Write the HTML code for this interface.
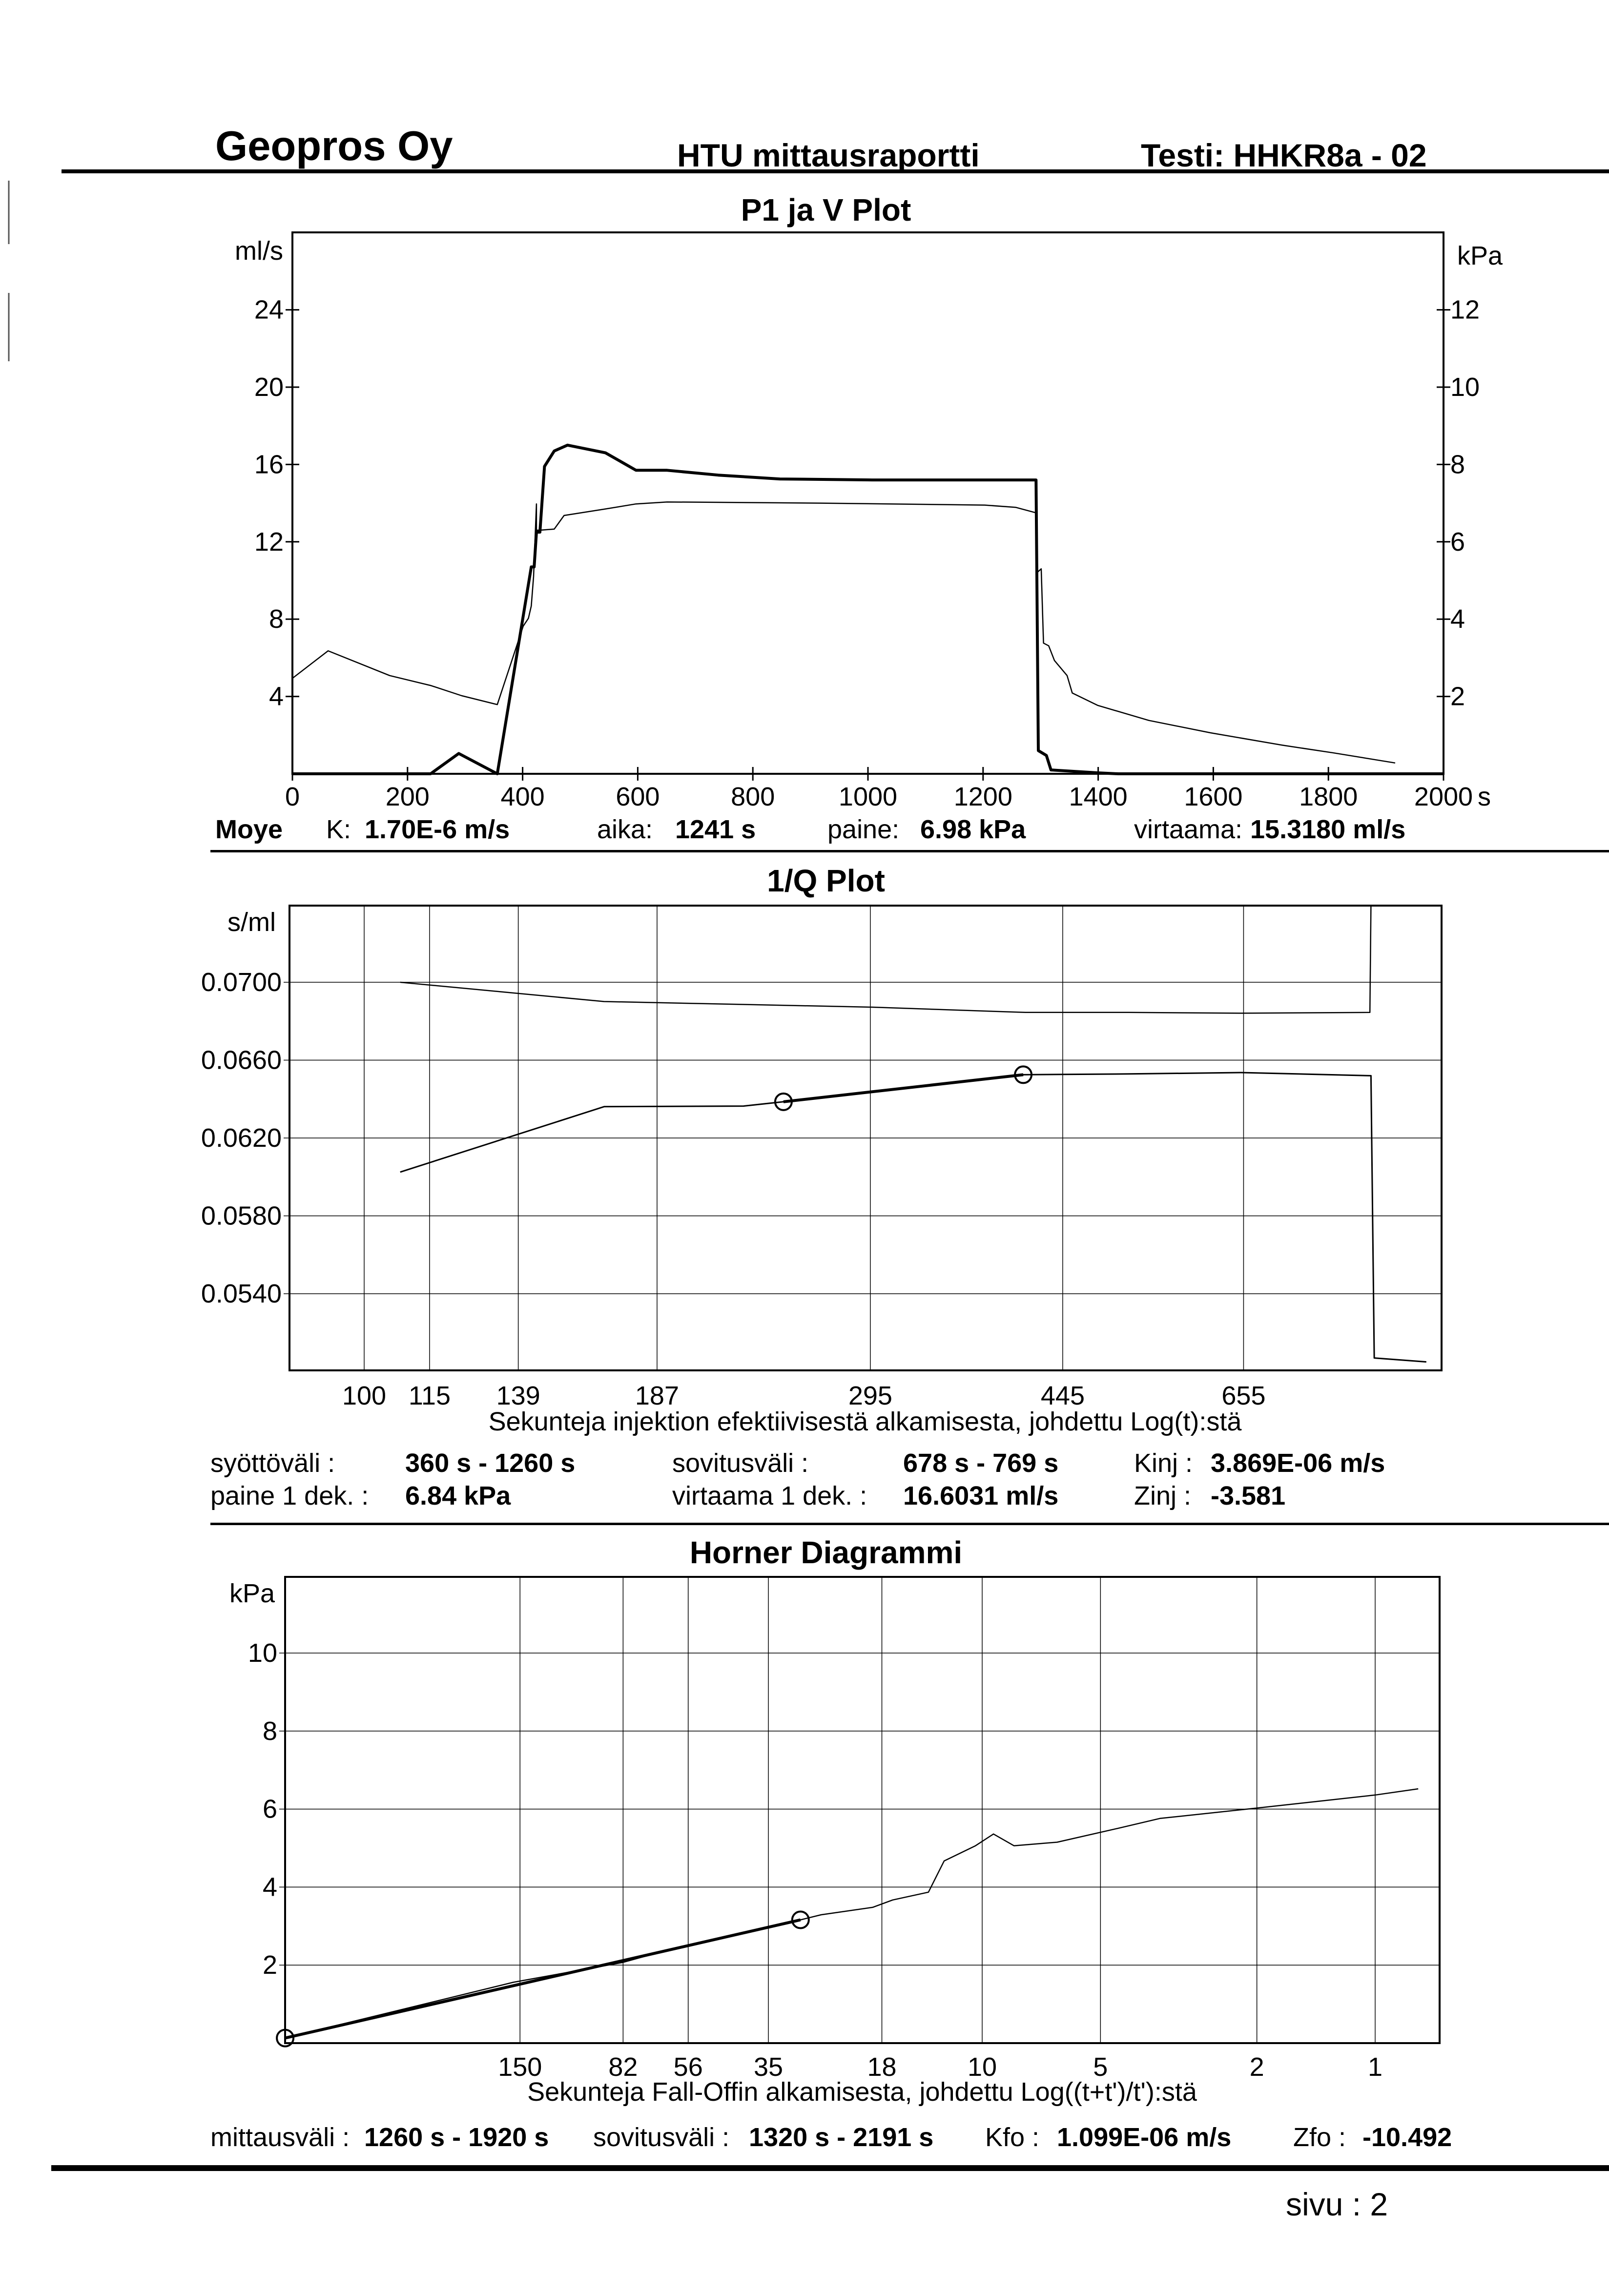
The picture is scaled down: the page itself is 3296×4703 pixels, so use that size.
<!DOCTYPE html>
<html><head><meta charset="utf-8"><style>
html,body{margin:0;padding:0;background:#fff;}
svg{display:block;font-family:"Liberation Sans",sans-serif;}
</style></head><body>
<svg id="pg" xmlns="http://www.w3.org/2000/svg" width="3296" height="4703" viewBox="0 0 3296 4703">
<rect width="3296" height="4703" fill="#fff"/>
<line x1="18" y1="370" x2="18" y2="500" stroke="#555" stroke-width="3"/>
<line x1="18" y1="600" x2="18" y2="740" stroke="#555" stroke-width="3"/>
<g font-weight="bold">
<text x="441" y="328" font-size="85">Geopros Oy</text>
<text x="1387" y="341" font-size="66">HTU mittausraportti</text>
<text x="2337" y="341" font-size="66">Testi: HHKR8a - 02</text>
</g>
<rect x="126" y="347" width="3170" height="8" fill="#000"/>
<g id="c1"></g>
<g id="c2"></g>
<g id="c3"></g>
<rect x="431" y="1741" width="2865" height="5" fill="#000"/>
<rect x="431" y="3119" width="2865" height="5" fill="#000"/>
<rect x="105" y="4435" width="3191" height="12" fill="#000"/>
<text x="2634" y="4538" font-size="66">sivu :  2</text>
</svg>
<script>
// ---- Chart 1 data ----
const flowT = [0,240,289,356,415,420,424,430,438,455,478,544,597,651,740,847,1007,1292,1296,1310,1318,1399,1435,2000];
const flowV = [0,0,1.05,0,10.7,10.7,12.5,12.5,15.9,16.7,17.0,16.6,15.7,15.7,15.45,15.25,15.2,15.2,1.2,0.95,0.2,0.05,0,0];
const presT = [0,62,169,241,294,356,401,410,415,419,424,424,430,455,472,544,597,651,918,1203,1257,1292,1292,1301,1305,1314,1324,1346,1355,1399,1488,1595,1720,1809,1916];
const presV = [2.47,3.18,2.54,2.28,2.02,1.79,3.82,4.02,4.34,5.1,6.98,6.3,6.3,6.33,6.68,6.85,6.98,7.03,7.0,6.95,6.89,6.75,5.18,5.3,3.38,3.31,2.93,2.54,2.09,1.77,1.38,1.06,0.74,0.54,0.28];
const c1LeftTicks = [4,8,12,16,20,24];
const c1RightTicks = [2,4,6,8,10,12];
const c1XTicks = [0,200,400,600,800,1000,1200,1400,1600,1800,2000];
// ---- Chart 2 data ----
const q2GridT = [100,115,139,187,295,445,655];
const q2YTicks = [0.0700,0.0660,0.0620,0.0580,0.0540];
const q2UpperT = [108,167,296,411,512,652,858,860];
const q2UpperV = [0.0700,0.06901,0.06872,0.06845,0.06845,0.06841,0.06845,0.0740];
const q2LowerT = [108,167,225,245,409,512,652,858,860,866,968];
const q2LowerV = [0.06025,0.06361,0.06364,0.06386,0.06525,0.06529,0.06536,0.0652,0.0652,0.0507,0.0505];
const q2FitT = [245,409];
const q2FitV = [0.06386,0.06525];
// ---- Chart 3 data ----
const h3GridL = [150,82,56,35,18,10,5,2,1];
const h3YTicks = [2,4,6,8,10];
const h3L = [594,156,82,63,29,25.7,19,16.9,13.7,12.5,10.4,9.36,8.3,6.45,4.5,3.53,1.94,1,0.777];
const h3V = [0.13,1.56,2.07,2.39,3.16,3.29,3.48,3.67,3.87,4.67,5.06,5.36,5.06,5.15,5.51,5.76,6.04,6.36,6.52];
const h3FitL = [594,29];
const h3FitV = [0.13,3.16];

const NS="http://www.w3.org/2000/svg";
function mk(parent,tag,attrs){const e=document.createElementNS(NS,tag);for(const k in attrs)e.setAttribute(k,attrs[k]);parent.appendChild(e);return e;}
function txt(parent,x,y,s,size,anchor,bold){const t=mk(parent,'text',{x:x,y:y,'font-size':size,'text-anchor':anchor||'start','dominant-baseline':'central'});if(bold)t.setAttribute('font-weight','bold');t.textContent=s;return t;}
function poly(parent,xs,ys,fx,fy,w,clip){const p=xs.map((v,i)=>fx(v).toFixed(1)+','+fy(ys[i]).toFixed(1)).join(' ');const e=mk(parent,'polyline',{points:p,fill:'none',stroke:'#000','stroke-width':w,'stroke-linejoin':'round'});if(clip)e.setAttribute('clip-path','url(#'+clip+')');return e;}
const defs=mk(document.getElementById('pg'),'defs',{});

// ===== Chart 1 =====
(function(){
const g=document.getElementById('c1');
const L=599,R=2957,T=476,B=1585;
const x=t=>L+t*(R-L)/2000, yl=v=>B-v*39.6, yr=k=>B-k*79.2;
const cp=mk(defs,'clipPath',{id:'clip1'});mk(cp,'rect',{x:L,y:T,width:R-L,height:B-T+4});
const title=txt(g,1692,430,'P1 ja V Plot',64,'middle',true);

const box=mk(g,'rect',{x:L,y:T,width:R-L,height:B-T,fill:'none',stroke:'#000','stroke-width':4});

const u1=txt(g,580,514,'ml/s',54,'end');
const u2=txt(g,2985,524,'kPa',54,'start');
c1LeftTicks.forEach(v=>{const l=mk(g,'line',{x1:L-14,x2:L+14,y1:yl(v),y2:yl(v),stroke:'#000','stroke-width':3});
const t=txt(g,L-18,yl(v),String(v),54,'end');});
c1RightTicks.forEach(v=>{const l=mk(g,'line',{x1:R-14,x2:R+14,y1:yr(v),y2:yr(v),stroke:'#000','stroke-width':3});
const t=txt(g,R+14,yr(v),String(v),54,'start');});
c1XTicks.forEach(v=>{const l=mk(g,'line',{x1:x(v),x2:x(v),y1:B-14,y2:B+14,stroke:'#000','stroke-width':3});
const t=txt(g,x(v),1632,String(v),54,'middle');});
const su=txt(g,x(2000)+70,1632,'s',54,'start');
const p1=poly(g,presT,presV,x,yr,2.5,'clip1');
const p2=poly(g,flowT,flowV,x,yl,6,'clip1');
const info=[[441,'Moye',1],[668,'K:',0],[747,'1.70E-6 m/s',1],[1223,'aika:',0],[1383,'1241 s',1],[1695,'paine:',0],[1885,'6.98 kPa',1],[2323,'virtaama:',0],[2561,'15.3180 ml/s',1]];
info.forEach(a=>{const t=txt(g,a[0],1699,a[1],54,'start',a[2]);});
})();

// ===== Chart 2 =====
(function(){
const g=document.getElementById('c2');
const L=593,R=2953,T=1855,B=2807;
const x=t=>746+2207*(Math.log10(t)-2), y=v=>2012+(0.0700-v)/0.004*159.5;
const cp=mk(defs,'clipPath',{id:'clip2'});mk(cp,'rect',{x:L,y:T,width:R-L,height:B-T});
const title=txt(g,1692,1804,'1/Q Plot',64,'middle',true);
q2GridT.forEach(v=>{const l=mk(g,'line',{x1:x(v),x2:x(v),y1:T,y2:B,stroke:'#000','stroke-width':1.5});
const t=txt(g,x(v),2859,String(v),54,'middle');});
q2YTicks.forEach(v=>{const l=mk(g,'line',{x1:L-12,x2:R,y1:y(v),y2:y(v),stroke:'#000','stroke-width':1.5});
const t=txt(g,L-16,y(v),v.toFixed(4),54,'end');});
const box=mk(g,'rect',{x:L,y:T,width:R-L,height:B-T,fill:'none',stroke:'#000','stroke-width':4});
const u=txt(g,565,1889,'s/ml',54,'end');
const a=poly(g,q2UpperT,q2UpperV,x,y,2.5,'clip2');
const b=poly(g,q2LowerT,q2LowerV,x,y,3,'clip2');
const f=poly(g,q2FitT,q2FitV,x,y,6);
q2FitT.forEach((t,i)=>{const c=mk(g,'circle',{cx:x(t),cy:y(q2FitV[i]),r:17,fill:'none',stroke:'#000','stroke-width':4});});
const at=txt(g,1772,2912,'Sekunteja injektion efektiivisestä alkamisesta, johdettu Log(t):stä',54,'middle');
const info=[[431,2997,'syöttöväli :',0],[830,2997,'360 s -  1260 s',1],[1377,2997,'sovitusväli :',0],[1850,2997,'678 s -   769 s',1],[2323,2997,'Kinj :',0],[2480,2997,'3.869E-06 m/s',1],
[431,3064,'paine 1 dek. :',0],[830,3064,'6.84 kPa',1],[1377,3064,'virtaama 1 dek. :',0],[1850,3064,'16.6031 ml/s',1],[2323,3064,'Zinj :',0],[2480,3064,'-3.581',1]];
info.forEach(a=>{const t=txt(g,a[0],a[1],a[2],54,'start',a[3]);t.setAttribute('xml:space','preserve');});
})();

// ===== Chart 3 =====
(function(){
const g=document.getElementById('c3');
const L=584,R=2949,T=3230,B=4185;
const x=l=>2817-805*Math.log10(l), y=k=>B-k*79.9;
const title=txt(g,1692,3180,'Horner Diagrammi',64,'middle',true);
h3GridL.forEach(v=>{const l=mk(g,'line',{x1:x(v),x2:x(v),y1:T,y2:B,stroke:'#000','stroke-width':1.5});
const t=txt(g,x(v),4234,String(v),54,'middle');});
h3YTicks.forEach(v=>{const l=mk(g,'line',{x1:L-12,x2:R,y1:y(v),y2:y(v),stroke:'#000','stroke-width':1.5});
const t=txt(g,L-16,y(v),String(v),54,'end');});
const box=mk(g,'rect',{x:L,y:T,width:R-L,height:B-T,fill:'none',stroke:'#000','stroke-width':4});
const u=txt(g,563,3264,'kPa',54,'end');
const a=poly(g,h3L,h3V,x,y,2.5);
const f=poly(g,h3FitL,h3FitV,x,y,6);
h3FitL.forEach((l,i)=>{const c=mk(g,'circle',{cx:x(l),cy:y(h3FitV[i]),r:17,fill:'none',stroke:'#000','stroke-width':4});});
const at=txt(g,1766,4285,"Sekunteja Fall-Offin alkamisesta, johdettu Log((t+t')/t'):stä",54,'middle');
const info=[[431,'mittausväli :',0],[746,'1260 s -  1920 s',1],[1215,'sovitusväli :',0],[1534,'1320 s -  2191 s',1],[2018,'Kfo :',0],[2165,'1.099E-06 m/s',1],[2649,'Zfo :',0],[2791,'-10.492',1]];
info.forEach(a=>{const t=txt(g,a[0],4378,a[1],54,'start',a[2]);t.setAttribute('xml:space','preserve');});
})();
</script>
</body></html>
